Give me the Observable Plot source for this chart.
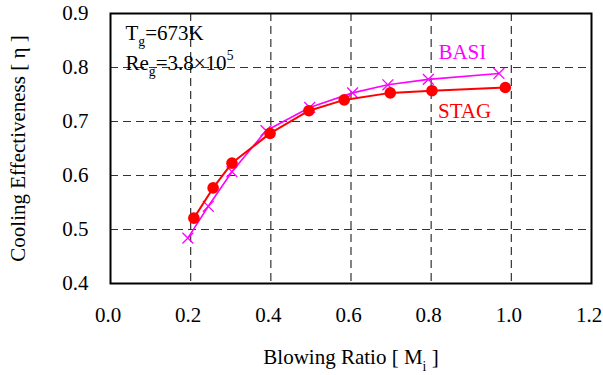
<!DOCTYPE html>
<html>
<head>
<meta charset="utf-8">
<script src="https://cdn.jsdelivr.net/npm/d3@7"></script>
<script src="https://cdn.jsdelivr.net/npm/@observablehq/plot@0.6"></script>
<style>
  html, body { margin: 0; padding: 0; background: #fff; }
  #chart { width: 603px; height: 375px; }
  #chart svg, #chart svg text, #chart svg tspan { font-family: "Liberation Serif", "Times New Roman", serif !important; }
</style>
</head>
<body>
<div id="chart"></div>
<script>
// Blowing ratio (x) and cooling effectiveness (y)
const basiX = [0.193, 0.244, 0.303, 0.388, 0.497, 0.604, 0.692, 0.793, 0.969];
const basiY = [0.484, 0.543, 0.607, 0.683, 0.726, 0.753, 0.768, 0.778, 0.789];
const stagX = [0.208, 0.256, 0.303, 0.398, 0.495, 0.583, 0.698, 0.802, 0.985];
const stagY = [0.521, 0.577, 0.623, 0.678, 0.720, 0.740, 0.753, 0.757, 0.763];

const xTicks = [0, 0.2, 0.4, 0.6, 0.8, 1.0, 1.2];
const yTicks = [0.4, 0.5, 0.6, 0.7, 0.8, 0.9];
const xGrid = [0.2, 0.4, 0.6, 0.8, 1.0];
const yGrid = [0.5, 0.6, 0.7, 0.8];

const seriesNames = ["BASI", "STAG"];
const annotations = [
  {x: 0.0375, y: 0.864, key: "Tg=673K"},
  {x: 0.0375, y: 0.808, key: "Reg=3.8x105"}
];
const seriesLabels = [
  {x: 0.818, y: 0.828, name: "BASI"},
  {x: 0.817, y: 0.7187, name: "STAG"}
];
const xLabel = "Blowing Ratio [ Mi ]";
const yLabel = "Cooling Effectiveness [ \u03b7 ]";

const basi = basiX.map((x, i) => ({x, y: basiY[i]}));
const stag = stagX.map((x, i) => ({x, y: stagY[i]}));

const MAG = "#ff00ff", RED = "#ff0000";
const FONT = "'Liberation Serif', 'Times New Roman', serif";
const FS = 21;

const plot = Plot.plot({
  width: 603,
  height: 375,
  marginLeft: 110,
  marginRight: 12,
  marginTop: 13,
  marginBottom: 92,
  style: {fontFamily: FONT, fontSize: FS + "px", background: "#fff", color: "#000"},
  x: {domain: [0, 1.2]},
  y: {domain: [0.4, 0.9]},
  marks: [
    Plot.gridX(xGrid, {stroke: "#333", strokeOpacity: 1, strokeWidth: 1.2, strokeDasharray: "8,5"}),
    Plot.gridY(yGrid, {stroke: "#333", strokeOpacity: 1, strokeWidth: 1.2, strokeDasharray: "8,5"}),
    Plot.axisX(xTicks, {tickSize: 0, tickPadding: 24, dx: -2.5, tickFormat: d3.format(".1f"), label: null, fontSize: FS}),
    Plot.axisY(yTicks, {tickSize: 0, tickPadding: 22, tickFormat: d3.format(".1f"), label: null, fontSize: FS}),
    Plot.line(basi, {x: "x", y: "y", stroke: MAG, strokeWidth: 1.6}),
    Plot.dot(basi, {x: "x", y: "y", symbol: "times", r: 5, stroke: MAG, strokeWidth: 1.3}),
    Plot.line(stag, {x: "x", y: "y", stroke: RED, strokeWidth: 2}),
    Plot.dot(stag, {x: "x", y: "y", r: 5.8, fill: RED, stroke: "none"}),
    Plot.text(annotations, {x: "x", y: "y", text: "key", textAnchor: "start", lineAnchor: "middle", fontSize: FS, fill: "#000"}),
    Plot.text(seriesLabels, {x: "x", y: "y", text: "name", textAnchor: "start", lineAnchor: "middle", fontSize: FS,
      fill: d => d.name === seriesNames[0] ? MAG : RED}),
    Plot.text([xLabel], {frameAnchor: "bottom", dy: 74, textAnchor: "middle", lineAnchor: "middle", fontSize: FS, fill: "#000"}),
    Plot.text([yLabel], {frameAnchor: "left", dx: -92, rotate: -90, textAnchor: "middle", lineAnchor: "middle", fontSize: FS, fill: "#000"}),
    Plot.frame({stroke: "#000", strokeWidth: 2})
  ]
});

document.getElementById("chart").appendChild(plot);

// rich text: subscripts / superscripts
function rich(content, parts) {
  d3.select(plot).selectAll("text").each(function() {
    if (this.textContent !== content) return;
    const t = d3.select(this);
    t.text(null);
    let shift = 0;
    parts.forEach(p => {
      const target = p.sub ? 0.3 : p.sup ? -0.45 : 0;
      const ts = t.append("tspan").text(p.t);
      const d = target - shift;
      const small = p.sub || p.sup;
      if (small) ts.attr("font-size", "0.65em");
      if (d !== 0) ts.attr("dy", (small ? d / 0.65 : d) + "em");
      shift = target;
    });
  });
}
rich("Tg=673K", [{t: "T"}, {t: "g", sub: true}, {t: "=673K"}]);
rich("Reg=3.8x105", [{t: "Re"}, {t: "g", sub: true}, {t: "=3.8\u00d710"}, {t: "5", sup: true}]);
rich(xLabel, [{t: "Blowing Ratio [ M"}, {t: "i", sub: true}, {t: " ]"}]);
</script>
</body>
</html>
